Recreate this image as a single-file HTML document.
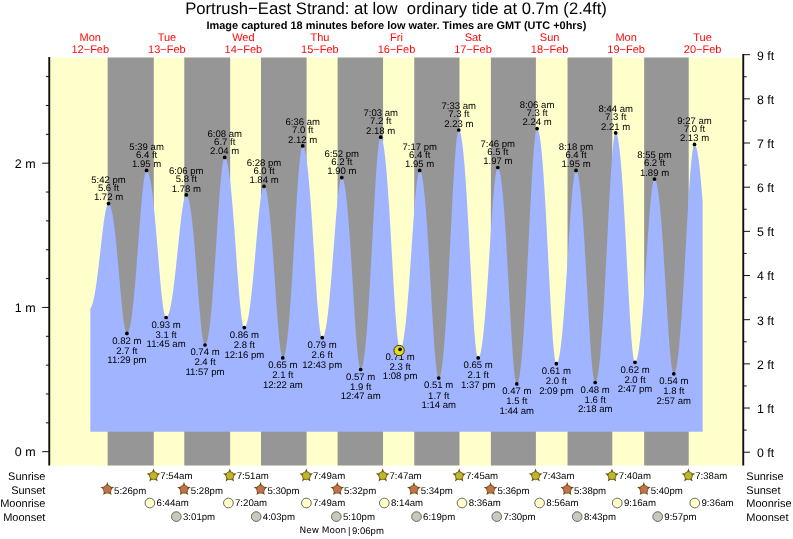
<!DOCTYPE html>
<html lang="en"><head><meta charset="utf-8"><title>Portrush−East Strand tide times</title>
<style>html,body{margin:0;padding:0;background:#fff}svg{display:block}text{font-family:"Liberation Sans",sans-serif;fill:#000;text-rendering:geometricPrecision}.r{fill:#ff0808}.c{text-anchor:middle}.e{text-anchor:end}</style></head><body>
<svg width="793" height="539" viewBox="0 0 793 539">
<rect width="793" height="539" fill="#fff"/>
<text class="c" x="396" y="14.1" font-size="16.66" xml:space="preserve" style="white-space:pre">Portrush−East Strand: at low  ordinary tide at 0.7m (2.4ft)</text>
<text class="c" x="396.4" y="28.8" font-size="10.965" font-weight="bold">Image captured 18 minutes before low water. Times are GMT (UTC +0hrs)</text>
<text class="c r" x="90.3" y="40.8" font-size="11">Mon</text>
<text class="c r" x="90.3" y="52.8" font-size="11">12−Feb</text>
<text class="c r" x="166.9" y="40.8" font-size="11">Tue</text>
<text class="c r" x="166.9" y="52.8" font-size="11">13−Feb</text>
<text class="c r" x="243.4" y="40.8" font-size="11">Wed</text>
<text class="c r" x="243.4" y="52.8" font-size="11">14−Feb</text>
<text class="c r" x="319.9" y="40.8" font-size="11">Thu</text>
<text class="c r" x="319.9" y="52.8" font-size="11">15−Feb</text>
<text class="c r" x="396.5" y="40.8" font-size="11">Fri</text>
<text class="c r" x="396.5" y="52.8" font-size="11">16−Feb</text>
<text class="c r" x="473.0" y="40.8" font-size="11">Sat</text>
<text class="c r" x="473.0" y="52.8" font-size="11">17−Feb</text>
<text class="c r" x="549.6" y="40.8" font-size="11">Sun</text>
<text class="c r" x="549.6" y="52.8" font-size="11">18−Feb</text>
<text class="c r" x="626.1" y="40.8" font-size="11">Mon</text>
<text class="c r" x="626.1" y="52.8" font-size="11">19−Feb</text>
<text class="c r" x="702.6" y="40.8" font-size="11">Tue</text>
<text class="c r" x="702.6" y="52.8" font-size="11">20−Feb</text>
<rect x="49.2" y="57.5" width="693.0" height="408.0" fill="#ffffcc"/>
<rect x="107.65" y="57.5" width="46.14" height="408.0" fill="#969696"/>
<rect x="184.29" y="57.5" width="45.87" height="408.0" fill="#969696"/>
<rect x="260.94" y="57.5" width="45.66" height="408.0" fill="#969696"/>
<rect x="337.59" y="57.5" width="45.45" height="408.0" fill="#969696"/>
<rect x="414.23" y="57.5" width="45.23" height="408.0" fill="#969696"/>
<rect x="490.88" y="57.5" width="45.02" height="408.0" fill="#969696"/>
<rect x="567.53" y="57.5" width="44.75" height="408.0" fill="#969696"/>
<rect x="644.17" y="57.5" width="44.54" height="408.0" fill="#969696"/>
<path d="M90.32 431.70 L90.32 308.41 L90.70 307.95 L91.09 307.34 L91.47 306.57 L91.85 305.65 L92.23 304.58 L92.62 303.35 L93.00 301.98 L93.38 300.46 L93.76 298.79 L94.15 296.97 L94.53 295.01 L94.91 292.91 L95.30 290.67 L95.68 288.30 L96.06 285.80 L96.44 283.17 L96.83 280.43 L97.21 277.57 L97.59 274.62 L97.97 271.57 L98.36 268.43 L98.74 265.22 L99.12 261.94 L99.50 258.62 L99.89 255.25 L100.27 251.86 L100.65 248.46 L101.04 245.07 L101.42 241.69 L101.80 238.36 L102.18 235.08 L102.57 231.88 L102.95 228.76 L103.33 225.75 L103.71 222.87 L104.10 220.14 L104.48 217.56 L104.86 215.16 L105.25 212.95 L105.63 210.94 L106.01 209.16 L106.39 207.60 L106.78 206.29 L107.16 205.23 L107.54 204.43 L107.92 203.89 L108.31 203.62 L108.69 203.62 L109.07 203.82 L109.45 204.23 L109.84 204.84 L110.22 205.65 L110.60 206.67 L110.99 207.89 L111.37 209.32 L111.75 210.94 L112.13 212.76 L112.52 214.78 L112.90 216.99 L113.28 219.40 L113.66 222.00 L114.05 224.78 L114.43 227.74 L114.81 230.87 L115.20 234.17 L115.58 237.63 L115.96 241.24 L116.34 244.99 L116.73 248.87 L117.11 252.86 L117.49 256.96 L117.87 261.14 L118.26 265.39 L118.64 269.69 L119.02 274.03 L119.41 278.38 L119.79 282.72 L120.17 287.03 L120.55 291.28 L120.94 295.46 L121.32 299.53 L121.70 303.48 L122.08 307.28 L122.47 310.90 L122.85 314.33 L123.23 317.53 L123.61 320.49 L124.00 323.19 L124.38 325.61 L124.76 327.72 L125.15 329.52 L125.53 330.99 L125.91 332.12 L126.29 332.90 L126.68 333.33 L127.06 333.40 L127.44 333.22 L127.82 332.82 L128.21 332.18 L128.59 331.33 L128.97 330.25 L129.36 328.94 L129.74 327.41 L130.12 325.66 L130.50 323.69 L130.89 321.50 L131.27 319.09 L131.65 316.47 L132.03 313.63 L132.42 310.59 L132.80 307.34 L133.18 303.89 L133.57 300.25 L133.95 296.42 L134.33 292.41 L134.71 288.24 L135.10 283.90 L135.48 279.41 L135.86 274.79 L136.24 270.05 L136.63 265.20 L137.01 260.26 L137.39 255.24 L137.77 250.17 L138.16 245.06 L138.54 239.94 L138.92 234.83 L139.31 229.75 L139.69 224.72 L140.07 219.77 L140.45 214.93 L140.84 210.21 L141.22 205.65 L141.60 201.27 L141.98 197.09 L142.37 193.14 L142.75 189.44 L143.13 186.02 L143.52 182.89 L143.90 180.07 L144.28 177.59 L144.66 175.45 L145.05 173.68 L145.43 172.28 L145.81 171.27 L146.19 170.64 L146.58 170.41 L146.96 170.50 L147.34 170.79 L147.73 171.30 L148.11 172.01 L148.49 172.92 L148.87 174.05 L149.26 175.38 L149.64 176.91 L150.02 178.65 L150.40 180.59 L150.79 182.74 L151.17 185.08 L151.55 187.62 L151.93 190.35 L152.32 193.27 L152.70 196.38 L153.08 199.67 L153.47 203.13 L153.85 206.75 L154.23 210.54 L154.61 214.47 L155.00 218.54 L155.38 222.74 L155.76 227.06 L156.14 231.47 L156.53 235.97 L156.91 240.55 L157.29 245.17 L157.68 249.83 L158.06 254.50 L158.44 259.17 L158.82 263.81 L159.21 268.39 L159.59 272.91 L159.97 277.33 L160.35 281.64 L160.74 285.80 L161.12 289.79 L161.50 293.60 L161.88 297.20 L162.27 300.56 L162.65 303.67 L163.03 306.50 L163.42 309.05 L163.80 311.28 L164.18 313.19 L164.56 314.77 L164.95 316.00 L165.33 316.88 L165.71 317.39 L166.09 317.55 L166.48 317.45 L166.86 317.20 L167.24 316.79 L167.63 316.22 L168.01 315.48 L168.39 314.59 L168.77 313.54 L169.16 312.34 L169.54 310.97 L169.92 309.45 L170.30 307.78 L170.69 305.95 L171.07 303.97 L171.45 301.83 L171.84 299.56 L172.22 297.13 L172.60 294.57 L172.98 291.88 L173.37 289.05 L173.75 286.09 L174.13 283.02 L174.51 279.83 L174.90 276.55 L175.28 273.16 L175.66 269.69 L176.04 266.14 L176.43 262.53 L176.81 258.87 L177.19 255.17 L177.58 251.44 L177.96 247.70 L178.34 243.96 L178.72 240.24 L179.11 236.56 L179.49 232.93 L179.87 229.37 L180.25 225.90 L180.64 222.53 L181.02 219.28 L181.40 216.17 L181.79 213.22 L182.17 210.44 L182.55 207.85 L182.93 205.45 L183.32 203.28 L183.70 201.33 L184.08 199.63 L184.46 198.18 L184.85 196.98 L185.23 196.06 L185.61 195.41 L186.00 195.03 L186.38 194.94 L186.76 195.09 L187.14 195.48 L187.53 196.09 L187.91 196.93 L188.29 198.01 L188.67 199.31 L189.06 200.84 L189.44 202.60 L189.82 204.58 L190.20 206.79 L190.59 209.22 L190.97 211.87 L191.35 214.73 L191.74 217.80 L192.12 221.08 L192.50 224.56 L192.88 228.23 L193.27 232.09 L193.65 236.12 L194.03 240.32 L194.41 244.66 L194.80 249.15 L195.18 253.76 L195.56 258.48 L195.95 263.29 L196.33 268.17 L196.71 273.11 L197.09 278.07 L197.48 283.04 L197.86 287.98 L198.24 292.89 L198.62 297.73 L199.01 302.47 L199.39 307.08 L199.77 311.55 L200.15 315.84 L200.54 319.93 L200.92 323.78 L201.30 327.38 L201.69 330.70 L202.07 333.72 L202.45 336.41 L202.83 338.77 L203.22 340.76 L203.60 342.38 L203.98 343.61 L204.36 344.45 L204.75 344.89 L205.13 344.93 L205.51 344.70 L205.90 344.20 L206.28 343.45 L206.66 342.44 L207.04 341.18 L207.43 339.66 L207.81 337.88 L208.19 335.85 L208.57 333.56 L208.96 331.03 L209.34 328.24 L209.72 325.21 L210.11 321.94 L210.49 318.43 L210.87 314.69 L211.25 310.71 L211.64 306.52 L212.02 302.12 L212.40 297.51 L212.78 292.70 L213.17 287.72 L213.55 282.56 L213.93 277.26 L214.31 271.81 L214.70 266.24 L215.08 260.56 L215.46 254.80 L215.85 248.98 L216.23 243.12 L216.61 237.25 L216.99 231.38 L217.38 225.55 L217.76 219.79 L218.14 214.11 L218.52 208.56 L218.91 203.15 L219.29 197.92 L219.67 192.89 L220.06 188.10 L220.44 183.57 L220.82 179.32 L221.20 175.39 L221.59 171.80 L221.97 168.57 L222.35 165.72 L222.73 163.26 L223.12 161.22 L223.50 159.61 L223.88 158.44 L224.26 157.71 L224.65 157.43 L225.03 157.52 L225.41 157.85 L225.80 158.42 L226.18 159.23 L226.56 160.27 L226.94 161.55 L227.33 163.06 L227.71 164.81 L228.09 166.80 L228.47 169.01 L228.86 171.46 L229.24 174.14 L229.62 177.04 L230.01 180.16 L230.39 183.50 L230.77 187.05 L231.15 190.81 L231.54 194.76 L231.92 198.91 L232.30 203.24 L232.68 207.75 L233.07 212.41 L233.45 217.22 L233.83 222.17 L234.22 227.23 L234.60 232.39 L234.98 237.64 L235.36 242.95 L235.75 248.30 L236.13 253.68 L236.51 259.05 L236.89 264.40 L237.28 269.69 L237.66 274.91 L238.04 280.02 L238.42 285.01 L238.81 289.83 L239.19 294.48 L239.57 298.91 L239.96 303.11 L240.34 307.05 L240.72 310.70 L241.10 314.04 L241.49 317.06 L241.87 319.73 L242.25 322.03 L242.63 323.96 L243.02 325.49 L243.40 326.62 L243.78 327.33 L244.17 327.63 L244.55 327.59 L244.93 327.34 L245.31 326.90 L245.70 326.27 L246.08 325.44 L246.46 324.42 L246.84 323.21 L247.23 321.81 L247.61 320.22 L247.99 318.44 L248.38 316.47 L248.76 314.31 L249.14 311.98 L249.52 309.46 L249.91 306.76 L250.29 303.89 L250.67 300.85 L251.05 297.65 L251.44 294.29 L251.82 290.78 L252.20 287.12 L252.58 283.34 L252.97 279.42 L253.35 275.40 L253.73 271.27 L254.12 267.06 L254.50 262.78 L254.88 258.43 L255.26 254.05 L255.65 249.64 L256.03 245.22 L256.41 240.81 L256.79 236.44 L257.18 232.12 L257.56 227.88 L257.94 223.73 L258.33 219.70 L258.71 215.80 L259.09 212.07 L259.47 208.51 L259.86 205.16 L260.24 202.02 L260.62 199.13 L261.00 196.49 L261.39 194.13 L261.77 192.06 L262.15 190.29 L262.54 188.83 L262.92 187.69 L263.30 186.88 L263.68 186.41 L264.07 186.28 L264.45 186.44 L264.83 186.86 L265.21 187.53 L265.60 188.47 L265.98 189.66 L266.36 191.11 L266.74 192.82 L267.13 194.78 L267.51 197.00 L267.89 199.47 L268.28 202.19 L268.66 205.16 L269.04 208.36 L269.42 211.81 L269.81 215.49 L270.19 219.40 L270.57 223.52 L270.95 227.85 L271.34 232.38 L271.72 237.10 L272.10 242.00 L272.49 247.05 L272.87 252.25 L273.25 257.58 L273.63 263.01 L274.02 268.53 L274.40 274.11 L274.78 279.73 L275.16 285.37 L275.55 290.99 L275.93 296.58 L276.31 302.09 L276.69 307.51 L277.08 312.80 L277.46 317.93 L277.84 322.87 L278.23 327.60 L278.61 332.07 L278.99 336.27 L279.37 340.17 L279.76 343.73 L280.14 346.94 L280.52 349.77 L280.90 352.21 L281.29 354.23 L281.67 355.82 L282.05 356.98 L282.44 357.68 L282.82 357.94 L283.20 357.81 L283.58 357.40 L283.97 356.69 L284.35 355.71 L284.73 354.43 L285.11 352.88 L285.50 351.03 L285.88 348.90 L286.26 346.50 L286.65 343.81 L287.03 340.84 L287.41 337.59 L287.79 334.08 L288.18 330.30 L288.56 326.25 L288.94 321.94 L289.32 317.39 L289.71 312.59 L290.09 307.56 L290.47 302.31 L290.85 296.85 L291.24 291.19 L291.62 285.34 L292.00 279.33 L292.39 273.17 L292.77 266.88 L293.15 260.49 L293.53 254.00 L293.92 247.46 L294.30 240.88 L294.68 234.29 L295.06 227.72 L295.45 221.20 L295.83 214.75 L296.21 208.42 L296.60 202.22 L296.98 196.20 L297.36 190.38 L297.74 184.80 L298.13 179.48 L298.51 174.46 L298.89 169.77 L299.27 165.43 L299.66 161.47 L300.04 157.91 L300.42 154.79 L300.81 152.10 L301.19 149.89 L301.57 148.15 L301.95 146.90 L302.34 146.14 L302.72 145.89 L303.10 146.02 L303.48 146.43 L303.87 147.10 L304.25 148.05 L304.63 149.26 L305.01 150.74 L305.40 152.48 L305.78 154.50 L306.16 156.77 L306.55 159.31 L306.93 162.12 L307.31 165.18 L307.69 168.49 L308.08 172.06 L308.46 175.87 L308.84 179.92 L309.22 184.20 L309.61 188.71 L309.99 193.43 L310.37 198.36 L310.76 203.48 L311.14 208.78 L311.52 214.24 L311.90 219.85 L312.29 225.60 L312.67 231.45 L313.05 237.40 L313.43 243.41 L313.82 249.47 L314.20 255.54 L314.58 261.61 L314.96 267.64 L315.35 273.61 L315.73 279.49 L316.11 285.24 L316.50 290.84 L316.88 296.25 L317.26 301.45 L317.64 306.41 L318.03 311.09 L318.41 315.47 L318.79 319.52 L319.17 323.22 L319.56 326.54 L319.94 329.47 L320.32 331.97 L320.71 334.04 L321.09 335.66 L321.47 336.82 L321.85 337.52 L322.24 337.74 L322.62 337.62 L323.00 337.29 L323.38 336.72 L323.77 335.94 L324.15 334.93 L324.53 333.71 L324.92 332.26 L325.30 330.59 L325.68 328.70 L326.06 326.60 L326.45 324.28 L326.83 321.75 L327.21 319.00 L327.59 316.05 L327.98 312.90 L328.36 309.55 L328.74 306.01 L329.12 302.28 L329.51 298.37 L329.89 294.29 L330.27 290.06 L330.66 285.67 L331.04 281.15 L331.42 276.50 L331.80 271.74 L332.19 266.89 L332.57 261.96 L332.95 256.98 L333.33 251.95 L333.72 246.91 L334.10 241.87 L334.48 236.86 L334.87 231.90 L335.25 227.01 L335.63 222.21 L336.01 217.54 L336.40 213.02 L336.78 208.67 L337.16 204.52 L337.54 200.59 L337.93 196.90 L338.31 193.48 L338.69 190.35 L339.08 187.53 L339.46 185.03 L339.84 182.88 L340.22 181.08 L340.61 179.64 L340.99 178.59 L341.37 177.92 L341.75 177.63 L342.14 177.71 L342.52 178.08 L342.90 178.74 L343.28 179.68 L343.67 180.91 L344.05 182.43 L344.43 184.23 L344.82 186.32 L345.20 188.69 L345.58 191.34 L345.96 194.27 L346.35 197.48 L346.73 200.95 L347.11 204.70 L347.49 208.70 L347.88 212.96 L348.26 217.46 L348.64 222.20 L349.03 227.17 L349.41 232.35 L349.79 237.73 L350.17 243.30 L350.56 249.03 L350.94 254.91 L351.32 260.92 L351.70 267.04 L352.09 273.23 L352.47 279.48 L352.85 285.76 L353.23 292.04 L353.62 298.29 L354.00 304.47 L354.38 310.56 L354.77 316.52 L355.15 322.32 L355.53 327.92 L355.91 333.29 L356.30 338.41 L356.68 343.23 L357.06 347.72 L357.44 351.86 L357.83 355.62 L358.21 358.97 L358.59 361.89 L358.98 364.35 L359.36 366.35 L359.74 367.87 L360.12 368.89 L360.51 369.41 L360.89 369.44 L361.27 369.14 L361.65 368.53 L362.04 367.60 L362.42 366.37 L362.80 364.83 L363.19 362.98 L363.57 360.82 L363.95 358.35 L364.33 355.58 L364.72 352.50 L365.10 349.13 L365.48 345.46 L365.86 341.49 L366.25 337.24 L366.63 332.70 L367.01 327.89 L367.39 322.82 L367.78 317.48 L368.16 311.90 L368.54 306.08 L368.93 300.03 L369.31 293.78 L369.69 287.34 L370.07 280.72 L370.46 273.95 L370.84 267.05 L371.22 260.05 L371.60 252.96 L371.99 245.81 L372.37 238.63 L372.75 231.46 L373.14 224.31 L373.52 217.23 L373.90 210.25 L374.28 203.40 L374.67 196.71 L375.05 190.21 L375.43 183.96 L375.81 177.96 L376.20 172.27 L376.58 166.91 L376.96 161.91 L377.35 157.30 L377.73 153.12 L378.11 149.38 L378.49 146.10 L378.88 143.32 L379.26 141.05 L379.64 139.29 L380.02 138.07 L380.41 137.39 L380.79 137.24 L381.17 137.47 L381.55 138.00 L381.94 138.82 L382.32 139.95 L382.70 141.38 L383.09 143.11 L383.47 145.14 L383.85 147.46 L384.23 150.08 L384.62 152.99 L385.00 156.19 L385.38 159.68 L385.76 163.46 L386.15 167.51 L386.53 171.83 L386.91 176.42 L387.30 181.26 L387.68 186.36 L388.06 191.69 L388.44 197.24 L388.83 203.01 L389.21 208.97 L389.59 215.10 L389.97 221.40 L390.36 227.83 L390.74 234.38 L391.12 241.02 L391.50 247.73 L391.89 254.47 L392.27 261.22 L392.65 267.95 L393.04 274.63 L393.42 281.22 L393.80 287.70 L394.18 294.02 L394.57 300.15 L394.95 306.07 L395.33 311.72 L395.71 317.10 L396.10 322.15 L396.48 326.85 L396.86 331.16 L397.25 335.07 L397.63 338.55 L398.01 341.57 L398.39 344.11 L398.78 346.16 L399.16 347.71 L399.54 348.73 L399.92 349.23 L400.31 349.24 L400.69 348.98 L401.07 348.47 L401.46 347.71 L401.84 346.70 L402.22 345.45 L402.60 343.95 L402.99 342.20 L403.37 340.21 L403.75 337.97 L404.13 335.50 L404.52 332.78 L404.90 329.82 L405.28 326.64 L405.66 323.22 L406.05 319.58 L406.43 315.73 L406.81 311.66 L407.20 307.39 L407.58 302.92 L407.96 298.27 L408.34 293.45 L408.73 288.46 L409.11 283.33 L409.49 278.08 L409.87 272.70 L410.26 267.24 L410.64 261.70 L411.02 256.10 L411.41 250.48 L411.79 244.84 L412.17 239.22 L412.55 233.65 L412.94 228.14 L413.32 222.74 L413.70 217.45 L414.08 212.32 L414.47 207.36 L414.85 202.62 L415.23 198.11 L415.62 193.86 L416.00 189.89 L416.38 186.24 L416.76 182.92 L417.15 179.96 L417.53 177.37 L417.91 175.17 L418.29 173.37 L418.68 171.99 L419.06 171.04 L419.44 170.52 L419.82 170.43 L420.21 170.68 L420.59 171.23 L420.97 172.10 L421.36 173.27 L421.74 174.75 L422.12 176.53 L422.50 178.63 L422.89 181.02 L423.27 183.72 L423.65 186.72 L424.03 190.01 L424.42 193.60 L424.80 197.47 L425.18 201.63 L425.57 206.06 L425.95 210.76 L426.33 215.73 L426.71 220.94 L427.10 226.38 L427.48 232.05 L427.86 237.93 L428.24 244.00 L428.63 250.24 L429.01 256.63 L429.39 263.14 L429.77 269.76 L430.16 276.46 L430.54 283.20 L430.92 289.97 L431.31 296.72 L431.69 303.42 L432.07 310.05 L432.45 316.56 L432.84 322.92 L433.22 329.10 L433.60 335.05 L433.98 340.75 L434.37 346.16 L434.75 351.25 L435.13 355.97 L435.52 360.31 L435.90 364.23 L436.28 367.70 L436.66 370.71 L437.05 373.23 L437.43 375.24 L437.81 376.73 L438.19 377.69 L438.58 378.11 L438.96 378.05 L439.34 377.65 L439.73 376.92 L440.11 375.87 L440.49 374.49 L440.87 372.79 L441.26 370.76 L441.64 368.41 L442.02 365.73 L442.40 362.74 L442.79 359.43 L443.17 355.80 L443.55 351.86 L443.93 347.61 L444.32 343.06 L444.70 338.22 L445.08 333.08 L445.47 327.67 L445.85 321.99 L446.23 316.04 L446.61 309.85 L447.00 303.43 L447.38 296.79 L447.76 289.95 L448.14 282.93 L448.53 275.74 L448.91 268.43 L449.29 260.99 L449.68 253.48 L450.06 245.90 L450.44 238.29 L450.82 230.69 L451.21 223.12 L451.59 215.61 L451.97 208.21 L452.35 200.94 L452.74 193.84 L453.12 186.95 L453.50 180.31 L453.89 173.94 L454.27 167.88 L454.65 162.17 L455.03 156.84 L455.42 151.92 L455.80 147.43 L456.18 143.42 L456.56 139.89 L456.95 136.88 L457.33 134.39 L457.71 132.45 L458.09 131.08 L458.48 130.26 L458.86 130.02 L459.24 130.21 L459.63 130.73 L460.01 131.57 L460.39 132.73 L460.77 134.22 L461.16 136.04 L461.54 138.17 L461.92 140.63 L462.30 143.41 L462.69 146.50 L463.07 149.91 L463.45 153.63 L463.84 157.66 L464.22 161.99 L464.60 166.61 L464.98 171.52 L465.37 176.71 L465.75 182.17 L466.13 187.88 L466.51 193.84 L466.90 200.03 L467.28 206.43 L467.66 213.03 L468.04 219.80 L468.43 226.72 L468.81 233.76 L469.19 240.91 L469.58 248.13 L469.96 255.40 L470.34 262.68 L470.72 269.94 L471.11 277.14 L471.49 284.25 L471.87 291.24 L472.25 298.07 L472.64 304.69 L473.02 311.08 L473.40 317.20 L473.79 323.01 L474.17 328.47 L474.55 333.56 L474.93 338.24 L475.32 342.47 L475.70 346.24 L476.08 349.52 L476.46 352.28 L476.85 354.51 L477.23 356.20 L477.61 357.32 L478.00 357.87 L478.38 357.90 L478.76 357.63 L479.14 357.09 L479.53 356.29 L479.91 355.23 L480.29 353.90 L480.67 352.31 L481.06 350.45 L481.44 348.34 L481.82 345.97 L482.20 343.34 L482.59 340.45 L482.97 337.32 L483.35 333.93 L483.74 330.30 L484.12 326.43 L484.50 322.33 L484.88 318.01 L485.27 313.47 L485.65 308.72 L486.03 303.77 L486.41 298.64 L486.80 293.34 L487.18 287.89 L487.56 282.29 L487.95 276.58 L488.33 270.76 L488.71 264.87 L489.09 258.91 L489.48 252.92 L489.86 246.92 L490.24 240.94 L490.62 235.01 L491.01 229.15 L491.39 223.38 L491.77 217.75 L492.16 212.29 L492.54 207.01 L492.92 201.95 L493.30 197.14 L493.69 192.61 L494.07 188.38 L494.45 184.48 L494.83 180.94 L495.22 177.77 L495.60 175.00 L495.98 172.65 L496.36 170.72 L496.75 169.24 L497.13 168.22 L497.51 167.65 L497.90 167.54 L498.28 167.79 L498.66 168.36 L499.04 169.24 L499.43 170.45 L499.81 171.97 L500.19 173.81 L500.57 175.97 L500.96 178.44 L501.34 181.23 L501.72 184.33 L502.11 187.73 L502.49 191.44 L502.87 195.44 L503.25 199.74 L503.64 204.33 L504.02 209.19 L504.40 214.33 L504.78 219.72 L505.17 225.36 L505.55 231.23 L505.93 237.32 L506.31 243.60 L506.70 250.07 L507.08 256.69 L507.46 263.45 L507.85 270.32 L508.23 277.26 L508.61 284.27 L508.99 291.29 L509.38 298.31 L509.76 305.28 L510.14 312.17 L510.52 318.95 L510.91 325.58 L511.29 332.02 L511.67 338.24 L512.06 344.20 L512.44 349.86 L512.82 355.19 L513.20 360.15 L513.59 364.72 L513.97 368.85 L514.35 372.53 L514.73 375.73 L515.12 378.42 L515.50 380.60 L515.88 382.23 L516.27 383.32 L516.65 383.85 L517.03 383.85 L517.41 383.50 L517.80 382.82 L518.18 381.81 L518.56 380.47 L518.94 378.80 L519.33 376.80 L519.71 374.47 L520.09 371.82 L520.47 368.84 L520.86 365.53 L521.24 361.91 L521.62 357.97 L522.01 353.72 L522.39 349.16 L522.77 344.30 L523.15 339.14 L523.54 333.70 L523.92 327.98 L524.30 322.00 L524.68 315.75 L525.07 309.27 L525.45 302.57 L525.83 295.65 L526.22 288.55 L526.60 281.27 L526.98 273.85 L527.36 266.30 L527.75 258.66 L528.13 250.94 L528.51 243.18 L528.89 235.41 L529.28 227.67 L529.66 219.97 L530.04 212.36 L530.43 204.88 L530.81 197.55 L531.19 190.41 L531.57 183.50 L531.96 176.86 L532.34 170.52 L532.72 164.51 L533.10 158.87 L533.49 153.63 L533.87 148.82 L534.25 144.47 L534.63 140.60 L535.02 137.24 L535.40 134.41 L535.78 132.12 L536.17 130.39 L536.55 129.23 L536.93 128.65 L537.31 128.62 L537.70 128.96 L538.08 129.63 L538.46 130.65 L538.84 132.00 L539.23 133.68 L539.61 135.70 L539.99 138.06 L540.38 140.74 L540.76 143.76 L541.14 147.11 L541.52 150.78 L541.91 154.77 L542.29 159.08 L542.67 163.69 L543.05 168.61 L543.44 173.83 L543.82 179.33 L544.20 185.10 L544.58 191.13 L544.97 197.41 L545.35 203.92 L545.73 210.64 L546.12 217.55 L546.50 224.63 L546.88 231.86 L547.26 239.20 L547.65 246.64 L548.03 254.14 L548.41 261.66 L548.79 269.19 L549.18 276.67 L549.56 284.08 L549.94 291.38 L550.33 298.53 L550.71 305.49 L551.09 312.22 L551.47 318.69 L551.86 324.86 L552.24 330.68 L552.62 336.13 L553.00 341.18 L553.39 345.77 L553.77 349.90 L554.15 353.53 L554.54 356.64 L554.92 359.20 L555.30 361.20 L555.68 362.62 L556.07 363.46 L556.45 363.71 L556.83 363.55 L557.21 363.12 L557.60 362.43 L557.98 361.47 L558.36 360.24 L558.74 358.74 L559.13 356.98 L559.51 354.95 L559.89 352.66 L560.28 350.11 L560.66 347.29 L561.04 344.22 L561.42 340.89 L561.81 337.32 L562.19 333.50 L562.57 329.44 L562.95 325.15 L563.34 320.64 L563.72 315.91 L564.10 310.98 L564.49 305.85 L564.87 300.55 L565.25 295.08 L565.63 289.46 L566.02 283.71 L566.40 277.85 L566.78 271.89 L567.16 265.87 L567.55 259.81 L567.93 253.72 L568.31 247.64 L568.70 241.59 L569.08 235.60 L569.46 229.70 L569.84 223.92 L570.23 218.29 L570.61 212.85 L570.99 207.61 L571.37 202.61 L571.76 197.88 L572.14 193.45 L572.52 189.34 L572.90 185.58 L573.29 182.19 L573.67 179.20 L574.05 176.62 L574.44 174.47 L574.82 172.77 L575.20 171.52 L575.58 170.73 L575.97 170.42 L576.35 170.52 L576.73 170.93 L577.11 171.65 L577.50 172.69 L577.88 174.03 L578.26 175.67 L578.65 177.63 L579.03 179.89 L579.41 182.45 L579.79 185.32 L580.18 188.49 L580.56 191.95 L580.94 195.71 L581.32 199.75 L581.71 204.07 L582.09 208.67 L582.47 213.54 L582.85 218.66 L583.24 224.02 L583.62 229.62 L584.00 235.44 L584.39 241.46 L584.77 247.66 L585.15 254.03 L585.53 260.54 L585.92 267.18 L586.30 273.90 L586.68 280.70 L587.06 287.54 L587.45 294.38 L587.83 301.21 L588.21 307.98 L588.60 314.66 L588.98 321.21 L589.36 327.61 L589.74 333.82 L590.13 339.79 L590.51 345.50 L590.89 350.91 L591.27 355.99 L591.66 360.70 L592.04 365.01 L592.42 368.90 L592.81 372.35 L593.19 375.31 L593.57 377.79 L593.95 379.75 L594.34 381.19 L594.72 382.09 L595.10 382.45 L595.48 382.35 L595.87 381.93 L596.25 381.19 L596.63 380.13 L597.01 378.76 L597.40 377.07 L597.78 375.07 L598.16 372.76 L598.55 370.13 L598.93 367.19 L599.31 363.94 L599.69 360.39 L600.08 356.53 L600.46 352.38 L600.84 347.93 L601.22 343.19 L601.61 338.18 L601.99 332.88 L602.37 327.33 L602.76 321.52 L603.14 315.47 L603.52 309.18 L603.90 302.69 L604.29 295.99 L604.67 289.11 L605.05 282.07 L605.43 274.89 L605.82 267.60 L606.20 260.20 L606.58 252.74 L606.97 245.24 L607.35 237.72 L607.73 230.23 L608.11 222.78 L608.50 215.41 L608.88 208.16 L609.26 201.05 L609.64 194.13 L610.03 187.42 L610.41 180.96 L610.79 174.78 L611.17 168.92 L611.56 163.40 L611.94 158.27 L612.32 153.54 L612.71 149.24 L613.09 145.40 L613.47 142.04 L613.85 139.19 L614.24 136.85 L614.62 135.05 L615.00 133.79 L615.38 133.08 L615.77 132.92 L616.15 133.15 L616.53 133.72 L616.92 134.62 L617.30 135.84 L617.68 137.39 L618.06 139.27 L618.45 141.48 L618.83 144.01 L619.21 146.87 L619.59 150.04 L619.98 153.54 L620.36 157.34 L620.74 161.46 L621.12 165.88 L621.51 170.60 L621.89 175.60 L622.27 180.89 L622.66 186.45 L623.04 192.27 L623.42 198.33 L623.80 204.61 L624.19 211.11 L624.57 217.81 L624.95 224.67 L625.33 231.68 L625.72 238.82 L626.10 246.05 L626.48 253.35 L626.87 260.69 L627.25 268.03 L627.63 275.34 L628.01 282.59 L628.40 289.75 L628.78 296.76 L629.16 303.61 L629.54 310.24 L629.93 316.63 L630.31 322.73 L630.69 328.51 L631.08 333.93 L631.46 338.96 L631.84 343.57 L632.22 347.73 L632.61 351.41 L632.99 354.58 L633.37 357.23 L633.75 359.33 L634.14 360.88 L634.52 361.85 L634.90 362.25 L635.28 362.18 L635.67 361.85 L636.05 361.26 L636.43 360.41 L636.82 359.31 L637.20 357.96 L637.58 356.35 L637.96 354.48 L638.35 352.37 L638.73 350.00 L639.11 347.39 L639.49 344.53 L639.88 341.43 L640.26 338.09 L640.64 334.52 L641.03 330.71 L641.41 326.69 L641.79 322.45 L642.17 318.00 L642.56 313.35 L642.94 308.52 L643.32 303.52 L643.70 298.35 L644.09 293.04 L644.47 287.60 L644.85 282.05 L645.24 276.41 L645.62 270.70 L646.00 264.94 L646.38 259.16 L646.77 253.37 L647.15 247.62 L647.53 241.91 L647.91 236.29 L648.30 230.78 L648.68 225.40 L649.06 220.19 L649.44 215.17 L649.83 210.38 L650.21 205.84 L650.59 201.58 L650.98 197.62 L651.36 193.99 L651.74 190.72 L652.12 187.81 L652.51 185.30 L652.89 183.19 L653.27 181.51 L653.65 180.26 L654.04 179.45 L654.42 179.09 L654.80 179.14 L655.19 179.47 L655.57 180.09 L655.95 180.99 L656.33 182.16 L656.72 183.62 L657.10 185.36 L657.48 187.37 L657.86 189.67 L658.25 192.23 L658.63 195.07 L659.01 198.18 L659.39 201.55 L659.78 205.19 L660.16 209.09 L660.54 213.23 L660.93 217.62 L661.31 222.24 L661.69 227.09 L662.07 232.15 L662.46 237.41 L662.84 242.87 L663.22 248.49 L663.60 254.27 L663.99 260.18 L664.37 266.21 L664.75 272.33 L665.14 278.53 L665.52 284.76 L665.90 291.01 L666.28 297.26 L666.67 303.46 L667.05 309.59 L667.43 315.62 L667.81 321.51 L668.20 327.24 L668.58 332.77 L668.96 338.07 L669.35 343.11 L669.73 347.86 L670.11 352.29 L670.49 356.36 L670.88 360.06 L671.26 363.36 L671.64 366.24 L672.02 368.68 L672.41 370.66 L672.79 372.16 L673.17 373.19 L673.55 373.72 L673.94 373.78 L674.32 373.52 L674.70 372.97 L675.09 372.14 L675.47 371.02 L675.85 369.62 L676.23 367.94 L676.62 365.97 L677.00 363.72 L677.38 361.19 L677.76 358.38 L678.15 355.30 L678.53 351.94 L678.91 348.31 L679.30 344.41 L679.68 340.25 L680.06 335.83 L680.44 331.17 L680.83 326.26 L681.21 321.11 L681.59 315.74 L681.97 310.16 L682.36 304.37 L682.74 298.40 L683.12 292.25 L683.50 285.94 L683.89 279.49 L684.27 272.93 L684.65 266.26 L685.04 259.51 L685.42 252.71 L685.80 245.88 L686.18 239.05 L686.57 232.24 L686.95 225.48 L687.33 218.80 L687.71 212.22 L688.10 205.79 L688.48 199.53 L688.86 193.47 L689.25 187.63 L689.63 182.06 L690.01 176.77 L690.39 171.80 L690.78 167.18 L691.16 162.92 L691.54 159.06 L691.92 155.61 L692.31 152.60 L692.69 150.04 L693.07 147.95 L693.46 146.34 L693.84 145.21 L694.22 144.59 L694.60 144.46 L694.99 144.65 L695.37 145.11 L695.75 145.83 L696.13 146.82 L696.52 148.06 L696.90 149.57 L697.28 151.33 L697.66 153.36 L698.05 155.64 L698.43 158.18 L698.81 160.98 L699.20 164.03 L699.58 167.33 L699.96 170.87 L700.34 174.66 L700.73 178.69 L701.11 182.95 L701.49 187.44 L701.87 192.15 L702.26 197.07 L702.64 202.20 L702.64 431.70 Z" fill="#a0b4ff"/>
<g stroke="#111" fill="none">
<path d="M49.25 57V465.5" stroke-width="1.9"/>
<path d="M743.25 54.1V465.5" stroke-width="1.9"/>
<path d="M42.2 451.70H49 M45.9 422.85H49 M45.9 394.00H49 M45.9 365.15H49 M45.9 336.30H49 M42.2 307.45H49 M45.9 278.60H49 M45.9 249.75H49 M45.9 220.90H49 M45.9 192.05H49 M42.2 163.20H49 M45.9 134.35H49 M45.9 105.50H49 M45.9 76.65H49 M743.5 452.20H750.0 M743.5 430.12H746.7 M743.5 408.03H750.0 M743.5 385.94H746.7 M743.5 363.86H750.0 M743.5 341.77H746.7 M743.5 319.69H750.0 M743.5 297.61H746.7 M743.5 275.52H750.0 M743.5 253.43H746.7 M743.5 231.35H750.0 M743.5 209.26H746.7 M743.5 187.18H750.0 M743.5 165.09H746.7 M743.5 143.01H750.0 M743.5 120.92H746.7 M743.5 98.84H750.0 M743.5 76.75H746.7 M743.5 54.67H750.0 " stroke-width="1"/>
</g>
<text x="14.8" y="456.3" font-size="12.5">0 m</text>
<text x="14.8" y="312.1" font-size="12.5">1 m</text>
<text x="14.8" y="167.8" font-size="12.5">2 m</text>
<text x="757.1" y="457.1" font-size="12.3">0 ft</text>
<text x="757.1" y="412.9" font-size="12.3">1 ft</text>
<text x="757.1" y="368.8" font-size="12.3">2 ft</text>
<text x="757.1" y="324.6" font-size="12.3">3 ft</text>
<text x="757.1" y="280.4" font-size="12.3">4 ft</text>
<text x="757.1" y="236.2" font-size="12.3">5 ft</text>
<text x="757.1" y="192.1" font-size="12.3">6 ft</text>
<text x="757.1" y="147.9" font-size="12.3">7 ft</text>
<text x="757.1" y="103.7" font-size="12.3">8 ft</text>
<text x="757.1" y="59.6" font-size="12.3">9 ft</text>
<text class="c" x="108.5" y="182.8" font-size="9.55">5:42 pm</text>
<text class="c" x="108.5" y="190.8" font-size="9.55">5.6 ft</text>
<text class="c" x="108.5" y="200.4" font-size="9.55">1.72 m</text>
<text class="c" x="126.9" y="343.7" font-size="9.55">0.82 m</text>
<text class="c" x="126.9" y="353.8" font-size="9.55">2.7 ft</text>
<text class="c" x="126.9" y="363.3" font-size="9.55">11:29 pm</text>
<text class="c" x="146.6" y="149.6" font-size="9.55">5:39 am</text>
<text class="c" x="146.6" y="157.6" font-size="9.55">6.4 ft</text>
<text class="c" x="146.6" y="167.2" font-size="9.55">1.95 m</text>
<text class="c" x="166.1" y="327.8" font-size="9.55">0.93 m</text>
<text class="c" x="166.1" y="337.9" font-size="9.55">3.1 ft</text>
<text class="c" x="166.1" y="347.4" font-size="9.55">11:45 am</text>
<text class="c" x="186.3" y="174.1" font-size="9.55">6:06 pm</text>
<text class="c" x="186.3" y="182.1" font-size="9.55">5.8 ft</text>
<text class="c" x="186.3" y="191.7" font-size="9.55">1.78 m</text>
<text class="c" x="205.0" y="355.3" font-size="9.55">0.74 m</text>
<text class="c" x="205.0" y="365.4" font-size="9.55">2.4 ft</text>
<text class="c" x="205.0" y="374.9" font-size="9.55">11:57 pm</text>
<text class="c" x="224.7" y="136.6" font-size="9.55">6:08 am</text>
<text class="c" x="224.7" y="144.6" font-size="9.55">6.7 ft</text>
<text class="c" x="224.7" y="154.2" font-size="9.55">2.04 m</text>
<text class="c" x="244.3" y="337.9" font-size="9.55">0.86 m</text>
<text class="c" x="244.3" y="348.0" font-size="9.55">2.8 ft</text>
<text class="c" x="244.3" y="357.5" font-size="9.55">12:16 pm</text>
<text class="c" x="264.0" y="165.5" font-size="9.55">6:28 pm</text>
<text class="c" x="264.0" y="173.5" font-size="9.55">6.0 ft</text>
<text class="c" x="264.0" y="183.1" font-size="9.55">1.84 m</text>
<text class="c" x="282.8" y="368.2" font-size="9.55">0.65 m</text>
<text class="c" x="282.8" y="378.3" font-size="9.55">2.1 ft</text>
<text class="c" x="282.8" y="387.8" font-size="9.55">12:22 am</text>
<text class="c" x="302.7" y="125.1" font-size="9.55">6:36 am</text>
<text class="c" x="302.7" y="133.1" font-size="9.55">7.0 ft</text>
<text class="c" x="302.7" y="142.7" font-size="9.55">2.12 m</text>
<text class="c" x="322.2" y="348.0" font-size="9.55">0.79 m</text>
<text class="c" x="322.2" y="358.1" font-size="9.55">2.6 ft</text>
<text class="c" x="322.2" y="367.6" font-size="9.55">12:43 pm</text>
<text class="c" x="341.8" y="156.8" font-size="9.55">6:52 pm</text>
<text class="c" x="341.8" y="164.8" font-size="9.55">6.2 ft</text>
<text class="c" x="341.8" y="174.4" font-size="9.55">1.90 m</text>
<text class="c" x="360.7" y="379.8" font-size="9.55">0.57 m</text>
<text class="c" x="360.7" y="389.9" font-size="9.55">1.9 ft</text>
<text class="c" x="360.7" y="399.4" font-size="9.55">12:47 am</text>
<text class="c" x="380.7" y="116.4" font-size="9.55">7:03 am</text>
<text class="c" x="380.7" y="124.4" font-size="9.55">7.2 ft</text>
<text class="c" x="380.7" y="134.0" font-size="9.55">2.18 m</text>
<text class="c" x="400.1" y="359.6" font-size="9.55">0.71 m</text>
<text class="c" x="400.1" y="369.7" font-size="9.55">2.3 ft</text>
<text class="c" x="400.1" y="379.2" font-size="9.55">1:08 pm</text>
<text class="c" x="419.7" y="149.6" font-size="9.55">7:17 pm</text>
<text class="c" x="419.7" y="157.6" font-size="9.55">6.4 ft</text>
<text class="c" x="419.7" y="167.2" font-size="9.55">1.95 m</text>
<text class="c" x="438.7" y="388.4" font-size="9.55">0.51 m</text>
<text class="c" x="438.7" y="398.5" font-size="9.55">1.7 ft</text>
<text class="c" x="438.7" y="408.0" font-size="9.55">1:14 am</text>
<text class="c" x="458.8" y="109.2" font-size="9.55">7:33 am</text>
<text class="c" x="458.8" y="117.2" font-size="9.55">7.3 ft</text>
<text class="c" x="458.8" y="126.8" font-size="9.55">2.23 m</text>
<text class="c" x="478.2" y="368.2" font-size="9.55">0.65 m</text>
<text class="c" x="478.2" y="378.3" font-size="9.55">2.1 ft</text>
<text class="c" x="478.2" y="387.8" font-size="9.55">1:37 pm</text>
<text class="c" x="497.8" y="146.7" font-size="9.55">7:46 pm</text>
<text class="c" x="497.8" y="154.7" font-size="9.55">6.5 ft</text>
<text class="c" x="497.8" y="164.3" font-size="9.55">1.97 m</text>
<text class="c" x="516.8" y="394.2" font-size="9.55">0.47 m</text>
<text class="c" x="516.8" y="404.3" font-size="9.55">1.5 ft</text>
<text class="c" x="516.8" y="413.8" font-size="9.55">1:44 am</text>
<text class="c" x="537.1" y="107.8" font-size="9.55">8:06 am</text>
<text class="c" x="537.1" y="115.8" font-size="9.55">7.3 ft</text>
<text class="c" x="537.1" y="125.4" font-size="9.55">2.24 m</text>
<text class="c" x="556.4" y="374.0" font-size="9.55">0.61 m</text>
<text class="c" x="556.4" y="384.1" font-size="9.55">2.0 ft</text>
<text class="c" x="556.4" y="393.6" font-size="9.55">2:09 pm</text>
<text class="c" x="576.0" y="149.6" font-size="9.55">8:18 pm</text>
<text class="c" x="576.0" y="157.6" font-size="9.55">6.4 ft</text>
<text class="c" x="576.0" y="167.2" font-size="9.55">1.95 m</text>
<text class="c" x="595.2" y="392.8" font-size="9.55">0.48 m</text>
<text class="c" x="595.2" y="402.9" font-size="9.55">1.6 ft</text>
<text class="c" x="595.2" y="412.4" font-size="9.55">2:18 am</text>
<text class="c" x="615.7" y="112.1" font-size="9.55">8:44 am</text>
<text class="c" x="615.7" y="120.1" font-size="9.55">7.3 ft</text>
<text class="c" x="615.7" y="129.7" font-size="9.55">2.21 m</text>
<text class="c" x="635.0" y="372.6" font-size="9.55">0.62 m</text>
<text class="c" x="635.0" y="382.7" font-size="9.55">2.0 ft</text>
<text class="c" x="635.0" y="392.2" font-size="9.55">2:47 pm</text>
<text class="c" x="654.5" y="158.3" font-size="9.55">8:55 pm</text>
<text class="c" x="654.5" y="166.3" font-size="9.55">6.2 ft</text>
<text class="c" x="654.5" y="175.9" font-size="9.55">1.89 m</text>
<text class="c" x="673.8" y="384.1" font-size="9.55">0.54 m</text>
<text class="c" x="673.8" y="394.2" font-size="9.55">1.8 ft</text>
<text class="c" x="673.8" y="403.7" font-size="9.55">2:57 am</text>
<text class="c" x="694.5" y="123.6" font-size="9.55">9:27 am</text>
<text class="c" x="694.5" y="131.6" font-size="9.55">7.0 ft</text>
<text class="c" x="694.5" y="141.2" font-size="9.55">2.13 m</text>
<circle cx="399.1" cy="350.5" r="5.15" fill="#e8dc1c" stroke="#3a3408" stroke-width="1"/>
<circle cx="108.5" cy="203.6" r="1.85" fill="#000"/>
<circle cx="126.9" cy="333.4" r="1.85" fill="#000"/>
<circle cx="146.6" cy="170.4" r="1.85" fill="#000"/>
<circle cx="166.1" cy="317.5" r="1.85" fill="#000"/>
<circle cx="186.3" cy="194.9" r="1.85" fill="#000"/>
<circle cx="205.0" cy="345.0" r="1.85" fill="#000"/>
<circle cx="224.7" cy="157.4" r="1.85" fill="#000"/>
<circle cx="244.3" cy="327.6" r="1.85" fill="#000"/>
<circle cx="264.0" cy="186.3" r="1.85" fill="#000"/>
<circle cx="282.8" cy="357.9" r="1.85" fill="#000"/>
<circle cx="302.7" cy="145.9" r="1.85" fill="#000"/>
<circle cx="322.2" cy="337.7" r="1.85" fill="#000"/>
<circle cx="341.8" cy="177.6" r="1.85" fill="#000"/>
<circle cx="360.7" cy="369.5" r="1.85" fill="#000"/>
<circle cx="380.7" cy="137.2" r="1.85" fill="#000"/>
<circle cx="400.1" cy="349.3" r="1.85" fill="#000"/>
<circle cx="419.7" cy="170.4" r="1.85" fill="#000"/>
<circle cx="438.7" cy="378.1" r="1.85" fill="#000"/>
<circle cx="458.8" cy="130.0" r="1.85" fill="#000"/>
<circle cx="478.2" cy="357.9" r="1.85" fill="#000"/>
<circle cx="497.8" cy="167.5" r="1.85" fill="#000"/>
<circle cx="516.8" cy="383.9" r="1.85" fill="#000"/>
<circle cx="537.1" cy="128.6" r="1.85" fill="#000"/>
<circle cx="556.4" cy="363.7" r="1.85" fill="#000"/>
<circle cx="576.0" cy="170.4" r="1.85" fill="#000"/>
<circle cx="595.2" cy="382.5" r="1.85" fill="#000"/>
<circle cx="615.7" cy="132.9" r="1.85" fill="#000"/>
<circle cx="635.0" cy="362.3" r="1.85" fill="#000"/>
<circle cx="654.5" cy="179.1" r="1.85" fill="#000"/>
<circle cx="673.8" cy="373.8" r="1.85" fill="#000"/>
<circle cx="694.5" cy="144.4" r="1.85" fill="#000"/>
<text class="e" x="45.4" y="479.6" font-size="11">Sunrise</text>
<text x="746.3" y="479.6" font-size="11">Sunrise</text>
<text class="e" x="45.4" y="493.7" font-size="11">Sunset</text>
<text x="746.3" y="493.7" font-size="11">Sunset</text>
<text class="e" x="45.4" y="506.9" font-size="11">Moonrise</text>
<text x="746.3" y="506.9" font-size="11">Moonrise</text>
<text class="e" x="45.4" y="520.9" font-size="11">Moonset</text>
<text x="746.3" y="520.9" font-size="11">Moonset</text>
<polygon points="153.48,468.50 155.31,473.19 160.33,473.48 156.43,476.66 157.72,481.52 153.48,478.80 149.25,481.52 150.54,476.66 146.64,473.48 151.66,473.19" fill="#6a4a10"/>
<circle cx="153.5" cy="475.7" r="4.0" fill="#b9b92e" stroke="#7a5c14" stroke-width="0.8"/>
<text x="160.3" y="479.2" font-size="9.65">7:54am</text>
<polygon points="107.35,482.10 109.17,486.79 114.20,487.08 110.30,490.26 111.58,495.12 107.35,492.40 103.12,495.12 104.40,490.26 100.50,487.08 105.53,486.79" fill="#6a4a10"/>
<circle cx="107.3" cy="489.3" r="4.0" fill="#c27252" stroke="#7a5c14" stroke-width="0.8"/>
<text x="114.1" y="493.6" font-size="9.65">5:26pm</text>
<polygon points="229.86,468.50 231.69,473.19 236.71,473.48 232.81,476.66 234.10,481.52 229.86,478.80 225.63,481.52 226.92,476.66 223.02,473.48 228.04,473.19" fill="#6a4a10"/>
<circle cx="229.9" cy="475.7" r="4.0" fill="#b9b92e" stroke="#7a5c14" stroke-width="0.8"/>
<text x="236.7" y="479.2" font-size="9.65">7:51am</text>
<polygon points="183.99,482.10 185.82,486.79 190.84,487.08 186.94,490.26 188.23,495.12 183.99,492.40 179.76,495.12 181.05,490.26 177.15,487.08 182.17,486.79" fill="#6a4a10"/>
<circle cx="184.0" cy="489.3" r="4.0" fill="#c27252" stroke="#7a5c14" stroke-width="0.8"/>
<text x="190.8" y="493.6" font-size="9.65">5:28pm</text>
<polygon points="306.30,468.50 308.12,473.19 313.15,473.48 309.25,476.66 310.53,481.52 306.30,478.80 302.07,481.52 303.35,476.66 299.45,473.48 304.48,473.19" fill="#6a4a10"/>
<circle cx="306.3" cy="475.7" r="4.0" fill="#b9b92e" stroke="#7a5c14" stroke-width="0.8"/>
<text x="313.1" y="479.2" font-size="9.65">7:49am</text>
<polygon points="260.64,482.10 262.46,486.79 267.49,487.08 263.59,490.26 264.87,495.12 260.64,492.40 256.41,495.12 257.69,490.26 253.79,487.08 258.82,486.79" fill="#6a4a10"/>
<circle cx="260.6" cy="489.3" r="4.0" fill="#c27252" stroke="#7a5c14" stroke-width="0.8"/>
<text x="267.4" y="493.6" font-size="9.65">5:30pm</text>
<polygon points="382.73,468.50 384.55,473.19 389.58,473.48 385.68,476.66 386.96,481.52 382.73,478.80 378.50,481.52 379.78,476.66 375.88,473.48 380.91,473.19" fill="#6a4a10"/>
<circle cx="382.7" cy="475.7" r="4.0" fill="#b9b92e" stroke="#7a5c14" stroke-width="0.8"/>
<text x="389.5" y="479.2" font-size="9.65">7:47am</text>
<polygon points="337.29,482.10 339.11,486.79 344.13,487.08 340.23,490.26 341.52,495.12 337.29,492.40 333.05,495.12 334.34,490.26 330.44,487.08 335.46,486.79" fill="#6a4a10"/>
<circle cx="337.3" cy="489.3" r="4.0" fill="#c27252" stroke="#7a5c14" stroke-width="0.8"/>
<text x="344.1" y="493.6" font-size="9.65">5:32pm</text>
<polygon points="459.17,468.50 460.99,473.19 466.01,473.48 462.11,476.66 463.40,481.52 459.17,478.80 454.93,481.52 456.22,476.66 452.32,473.48 457.34,473.19" fill="#6a4a10"/>
<circle cx="459.2" cy="475.7" r="4.0" fill="#b9b92e" stroke="#7a5c14" stroke-width="0.8"/>
<text x="466.0" y="479.2" font-size="9.65">7:45am</text>
<polygon points="413.93,482.10 415.76,486.79 420.78,487.08 416.88,490.26 418.17,495.12 413.93,492.40 409.70,495.12 410.98,490.26 407.09,487.08 412.11,486.79" fill="#6a4a10"/>
<circle cx="413.9" cy="489.3" r="4.0" fill="#c27252" stroke="#7a5c14" stroke-width="0.8"/>
<text x="420.7" y="493.6" font-size="9.65">5:34pm</text>
<polygon points="535.60,468.50 537.42,473.19 542.45,473.48 538.55,476.66 539.83,481.52 535.60,478.80 531.37,481.52 532.65,476.66 528.75,473.48 533.78,473.19" fill="#6a4a10"/>
<circle cx="535.6" cy="475.7" r="4.0" fill="#b9b92e" stroke="#7a5c14" stroke-width="0.8"/>
<text x="542.4" y="479.2" font-size="9.65">7:43am</text>
<polygon points="490.58,482.10 492.40,486.79 497.43,487.08 493.53,490.26 494.81,495.12 490.58,492.40 486.35,495.12 487.63,490.26 483.73,487.08 488.76,486.79" fill="#6a4a10"/>
<circle cx="490.6" cy="489.3" r="4.0" fill="#c27252" stroke="#7a5c14" stroke-width="0.8"/>
<text x="497.4" y="493.6" font-size="9.65">5:36pm</text>
<polygon points="611.98,468.50 613.80,473.19 618.83,473.48 614.93,476.66 616.21,481.52 611.98,478.80 607.75,481.52 609.03,476.66 605.13,473.48 610.16,473.19" fill="#6a4a10"/>
<circle cx="612.0" cy="475.7" r="4.0" fill="#b9b92e" stroke="#7a5c14" stroke-width="0.8"/>
<text x="618.8" y="479.2" font-size="9.65">7:40am</text>
<polygon points="567.23,482.10 569.05,486.79 574.07,487.08 570.17,490.26 571.46,495.12 567.23,492.40 562.99,495.12 564.28,490.26 560.38,487.08 565.40,486.79" fill="#6a4a10"/>
<circle cx="567.2" cy="489.3" r="4.0" fill="#c27252" stroke="#7a5c14" stroke-width="0.8"/>
<text x="574.0" y="493.6" font-size="9.65">5:38pm</text>
<polygon points="688.41,468.50 690.24,473.19 695.26,473.48 691.36,476.66 692.65,481.52 688.41,478.80 684.18,481.52 685.47,476.66 681.57,473.48 686.59,473.19" fill="#6a4a10"/>
<circle cx="688.4" cy="475.7" r="4.0" fill="#b9b92e" stroke="#7a5c14" stroke-width="0.8"/>
<text x="695.2" y="479.2" font-size="9.65">7:38am</text>
<polygon points="643.87,482.10 645.69,486.79 650.72,487.08 646.82,490.26 648.10,495.12 643.87,492.40 639.64,495.12 640.92,490.26 637.02,487.08 642.05,486.79" fill="#6a4a10"/>
<circle cx="643.9" cy="489.3" r="4.0" fill="#c27252" stroke="#7a5c14" stroke-width="0.8"/>
<text x="650.7" y="493.6" font-size="9.65">5:40pm</text>
<circle cx="149.9" cy="503.0" r="4.85" fill="#ffffc8" stroke="#5a5a5a" stroke-width="0.9"/>
<text x="156.6" y="505.8" font-size="9.65">6:44am</text>
<circle cx="228.4" cy="503.0" r="4.85" fill="#ffffc8" stroke="#5a5a5a" stroke-width="0.9"/>
<text x="235.0" y="505.8" font-size="9.65">7:20am</text>
<circle cx="306.4" cy="503.0" r="4.85" fill="#ffffc8" stroke="#5a5a5a" stroke-width="0.9"/>
<text x="313.1" y="505.8" font-size="9.65">7:49am</text>
<circle cx="384.3" cy="503.0" r="4.85" fill="#ffffc8" stroke="#5a5a5a" stroke-width="0.9"/>
<text x="391.0" y="505.8" font-size="9.65">8:14am</text>
<circle cx="462.0" cy="503.0" r="4.85" fill="#ffffc8" stroke="#5a5a5a" stroke-width="0.9"/>
<text x="468.7" y="505.8" font-size="9.65">8:36am</text>
<circle cx="539.6" cy="503.0" r="4.85" fill="#ffffc8" stroke="#5a5a5a" stroke-width="0.9"/>
<text x="546.3" y="505.8" font-size="9.65">8:56am</text>
<circle cx="617.2" cy="503.0" r="4.85" fill="#ffffc8" stroke="#5a5a5a" stroke-width="0.9"/>
<text x="623.9" y="505.8" font-size="9.65">9:16am</text>
<circle cx="694.8" cy="503.0" r="4.85" fill="#ffffc8" stroke="#5a5a5a" stroke-width="0.9"/>
<text x="701.5" y="505.8" font-size="9.65">9:36am</text>
<circle cx="176.3" cy="516.6" r="4.85" fill="#c8c8bc" stroke="#5a5a5a" stroke-width="0.9"/>
<text x="183.0" y="520.0" font-size="9.65">3:01pm</text>
<circle cx="256.2" cy="516.6" r="4.85" fill="#c8c8bc" stroke="#5a5a5a" stroke-width="0.9"/>
<text x="262.8" y="520.0" font-size="9.65">4:03pm</text>
<circle cx="336.3" cy="516.6" r="4.85" fill="#c8c8bc" stroke="#5a5a5a" stroke-width="0.9"/>
<text x="342.9" y="520.0" font-size="9.65">5:10pm</text>
<circle cx="416.5" cy="516.6" r="4.85" fill="#c8c8bc" stroke="#5a5a5a" stroke-width="0.9"/>
<text x="423.1" y="520.0" font-size="9.65">6:19pm</text>
<circle cx="496.8" cy="516.6" r="4.85" fill="#c8c8bc" stroke="#5a5a5a" stroke-width="0.9"/>
<text x="503.4" y="520.0" font-size="9.65">7:30pm</text>
<circle cx="577.2" cy="516.6" r="4.85" fill="#c8c8bc" stroke="#5a5a5a" stroke-width="0.9"/>
<text x="583.9" y="520.0" font-size="9.65">8:43pm</text>
<circle cx="657.7" cy="516.6" r="4.85" fill="#c8c8bc" stroke="#5a5a5a" stroke-width="0.9"/>
<text x="664.3" y="520.0" font-size="9.65">9:57pm</text>
<text x="299.5" y="532.9" font-size="8.95" style="font-family:'DejaVu Sans',sans-serif">New Moon</text>
<text x="348.1" y="534.2" font-size="9.55">|</text>
<text x="352.0" y="534.2" font-size="9.55">9:06pm</text>
</svg></body></html>
